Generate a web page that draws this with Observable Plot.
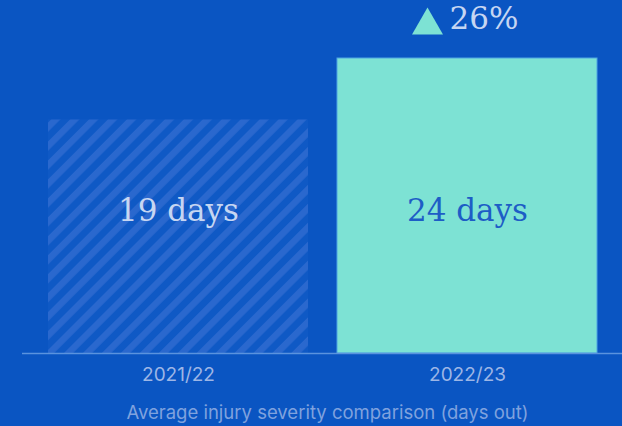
<!DOCTYPE html>
<html><head><meta charset="utf-8">
<script src="https://cdn.jsdelivr.net/npm/d3@7"></script>
<script src="https://cdn.jsdelivr.net/npm/@observablehq/plot@0.6"></script>
<style>
html,body{margin:0;padding:0;background:#0A55C2;overflow:hidden;}
</style></head><body><div id="chart"></div>
<script>
const seasons = ["2021/22", "2022/23"];
const days = [19, 24];
const dayLabels = ["19 days", "24 days"];
const changeLabel = "26%";
const captionText = "Average injury severity comparison (days out)";

const data = seasons.map((s, i) => ({season: s, days: days[i], label: dayLabels[i]}));
const prior = data.filter(d => d.season === seasons[0]);
const latest = data.filter(d => d.season === seasons[1]);
const serif = "'DejaVu Serif', serif";

const chart = Plot.plot({
  width: 622, height: 426,
  marginTop: 0, marginLeft: 22, marginRight: 0, marginBottom: 73,
  style: {background: "transparent", color: "#9DB6E6", fontFamily: "Inter, sans-serif", overflow: "visible"},
  x: {domain: seasons, range: [19, 626], paddingInner: 0.1, paddingOuter: 0.1},
  y: {domain: [0, 24], range: [353, 58]},
  marks: [
    Plot.barY(prior, {x: "season", y: "days", fill: "url(#hatch)"}),
    Plot.barY(latest, {x: "season", y: "days", fill: "#7DE2D4", stroke: "#4FA6E2", strokeWidth: 1}),
    Plot.ruleY([0], {stroke: "#5A93DE", strokeWidth: 1.5}),
    Plot.axisX({tickSize: 0, tickPadding: 14, fontSize: 19, label: null, fill: "#9DB6E6"}),
    Plot.axisY({ticks: [], label: null}),
    Plot.text(prior, {x: "season", frameAnchor: "bottom", dy: -142, text: "label", fontSize: 31, fontFamily: serif, fill: "#C6D6F2", lineAnchor: "middle"}),
    Plot.text(latest, {x: "season", frameAnchor: "bottom", dy: -142, text: "label", fontSize: 31, fontFamily: serif, fill: "#1D5DC6", lineAnchor: "middle"}),
    Plot.dot(latest, {x: "season", y: "days", symbol: "triangle", r: 11.5, fill: "#7DE2D4", dx: -40, dy: -33}),
    Plot.text(latest, {x: "season", y: "days", text: () => changeLabel, dx: 16.5, dy: -39, fontSize: 31, fontFamily: serif, fill: "#C6D6F2", lineAnchor: "middle"}),
    Plot.text([captionText], {frameAnchor: "bottom", text: d => d, dx: 5, dy: 60, fontSize: 18.5, fill: "#7FA2DE", lineAnchor: "middle"})
  ]
});

d3.select(chart).insert("defs", ":first-child").html(
  `<pattern id="hatch" patternUnits="userSpaceOnUse" width="13.4" height="13.4" patternTransform="rotate(45)">
     <rect width="13.4" height="13.4" fill="#0F59C5"></rect>
     <rect width="6.5" height="13.4" fill="#2A68CE"></rect>
   </pattern>`
);

document.getElementById("chart").appendChild(chart);
</script></body></html>
